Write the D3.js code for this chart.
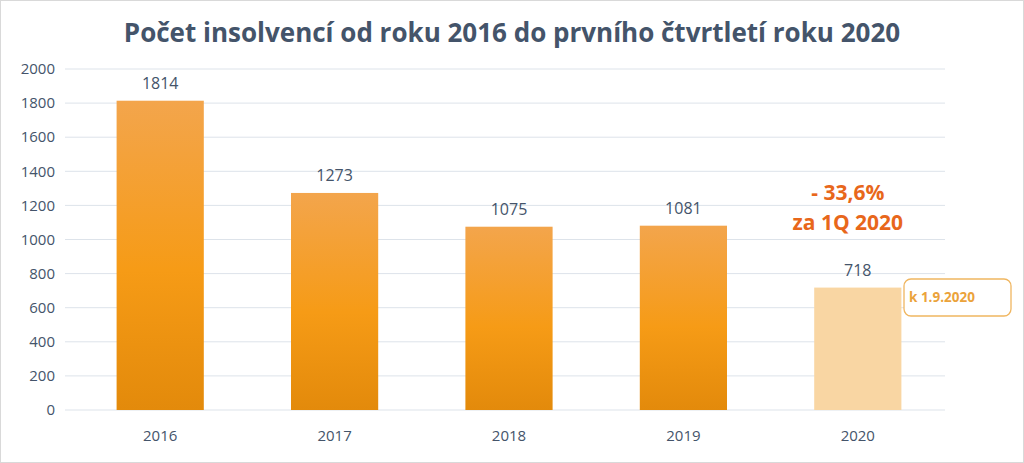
<!DOCTYPE html>
<html><head><meta charset="utf-8">
<script src="https://cdn.jsdelivr.net/npm/d3@7"></script>
<style>body{margin:0;background:#fff}svg{display:block}</style>
</head><body><div id="chart"></div>
<script>
var years = ["2016", "2017", "2018", "2019", "2020"];
var counts = [1814, 1273, 1075, 1081, 718];
var yTicks = [0, 200, 400, 600, 800, 1000, 1200, 1400, 1600, 1800, 2000];

var w = 1024, h = 463;
var svg = d3.select("#chart").append("svg").attr("width", w).attr("height", h)
    .style("font-family", "'Open Sans', sans-serif");

svg.append("rect").attr("x", 0.5).attr("y", 0.5).attr("width", w - 1).attr("height", h - 1)
    .attr("fill", "#fff").attr("stroke", "#d9d9d9");

var grad = svg.append("defs").append("linearGradient").attr("id", "g").attr("x1", 0).attr("y1", 0).attr("x2", 0).attr("y2", 1);
grad.append("stop").attr("offset", "0%").attr("stop-color", "#f3a54c");
grad.append("stop").attr("offset", "55%").attr("stop-color", "#f69b16");
grad.append("stop").attr("offset", "100%").attr("stop-color", "#e38a0b");

var x = d3.scaleBand().domain(years).range([73, 945]).paddingInner(0.5).paddingOuter(0.25);
var y = d3.scaleLinear().domain([0, 2000]).range([410, 69]);

// gridlines
svg.selectAll(".grid").data(yTicks).enter().append("line")
    .attr("x1", 65).attr("x2", 945)
    .attr("y1", d => y(d)).attr("y2", d => y(d))
    .attr("stroke", "#dde3ea").attr("stroke-width", 1);

// y labels
svg.selectAll(".yl").data(yTicks).enter().append("text")
    .attr("x", 55).attr("y", d => y(d)).attr("dy", "0.35em")
    .attr("text-anchor", "end").attr("font-size", 15).attr("fill", "#44546a")
    .text(d => d);

// bars
svg.selectAll(".bar").data(counts).enter().append("rect")
    .attr("x", (d, i) => x(years[i])).attr("width", x.bandwidth())
    .attr("y", d => y(d)).attr("height", d => y(0) - y(d))
    .attr("fill", (d, i) => i === 4 ? "#f9d6a3" : "url(#g)");

// value labels
svg.selectAll(".vl").data(counts).enter().append("text")
    .attr("x", (d, i) => x(years[i]) + x.bandwidth() / 2).attr("y", d => y(d) - 12)
    .attr("text-anchor", "middle").attr("font-size", 16).attr("fill", "#44546a")
    .text(d => d);

// x labels
svg.selectAll(".xl").data(years).enter().append("text")
    .attr("x", d => x(d) + x.bandwidth() / 2).attr("y", 441)
    .attr("text-anchor", "middle").attr("font-size", 15).attr("fill", "#44546a")
    .text(d => d);

// title
svg.append("text").attr("x", 512).attr("y", 42).attr("text-anchor", "middle")
    .attr("font-size", 26).attr("font-weight", "bold").attr("fill", "#44546a")
    .text("Počet insolvencí od roku 2016 do prvního čtvrtletí roku 2020");

// annotation
var cx = x("2020") + x.bandwidth() / 2 - 10;
svg.append("text").attr("x", cx).attr("y", 200).attr("text-anchor", "middle")
    .attr("font-size", 21).attr("font-weight", "bold").attr("fill", "#e8671b").text("- 33,6%");
svg.append("text").attr("x", cx).attr("y", 230).attr("text-anchor", "middle")
    .attr("font-size", 21).attr("font-weight", "bold").attr("fill", "#e8671b").text("za 1Q 2020");

svg.append("rect").attr("x", 904).attr("y", 279).attr("width", 107).attr("height", 37).attr("rx", 7)
    .attr("fill", "#fff").attr("stroke", "#f0b660").attr("stroke-width", 1.3);
svg.append("text").attr("x", 909).attr("y", 302).attr("font-size", 13.5).attr("font-weight", "bold")
    .attr("fill", "#eba33b").text("k 1.9.2020");
</script></body></html>
